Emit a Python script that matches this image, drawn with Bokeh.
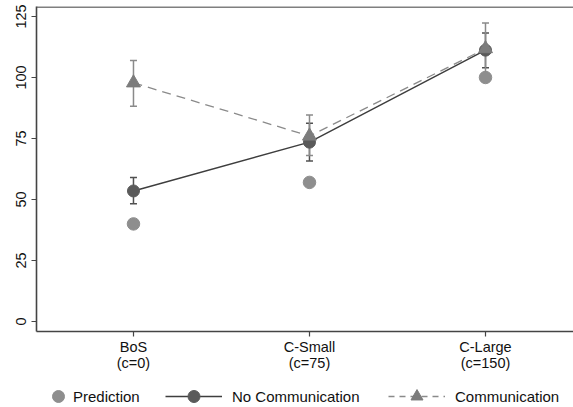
from bokeh.plotting import figure
from bokeh.layouts import column
from bokeh.models import (FixedTicker, Whisker, TeeHead, ColumnDataSource, Span,
                          Legend, LegendItem)
from bokeh.embed import file_html
from bokeh.resources import INLINE

# ---- data ----
categories = ["BoS\n(c=0)", "C-Small\n(c=75)", "C-Large\n(c=150)"]
xpos = [1, 2, 3]
prediction = [40, 57, 100]
nocomm = [53.5, 73.5, 111.2]
nocomm_lo = [48.3, 65.8, 104.0]
nocomm_hi = [59.0, 81.2, 118.2]
comm = [97.8, 76.0, 111.8]
comm_lo = [88.2, 68.0, 101.3]
comm_hi = [107.0, 84.6, 122.3]
yticks = [0, 25, 50, 75, 100, 125]
series_labels = ["Prediction", "No Communication", "Communication"]

FONT = "Liberation Sans"
PRED_COL = "#8e8e8e"
NC_LINE = "#3e3e3e"
NC_PT = "#5a5a5a"
C_LINE = "#8a8a8a"
C_PT = "#7c7c7c"

p = figure(width=573, height=374, output_backend="svg", toolbar_location=None,
           x_range=(0.449, 3.5), y_range=(-4.085, 129.08),
           min_border_left=36, min_border_right=0, min_border_top=6,
           min_border_bottom=42)
p.outline_line_color = None
p.xgrid.visible = False
p.ygrid.visible = False

# top frame line
p.add_layout(Span(location=128.9, dimension="width", line_color="#555555", line_width=1.6))

for ax in (p.xaxis[0], p.yaxis[0]):
    ax.axis_line_color = "#444444"
    ax.axis_line_width = 1.6
    ax.major_tick_line_color = "#444444"
    ax.major_tick_line_width = 1.2
    ax.major_tick_out = 5
    ax.major_tick_in = 0
    ax.minor_tick_line_color = None
    ax.major_label_text_font = FONT
    ax.major_label_text_font_size = "14.5px"
    ax.major_label_text_color = "#111111"

p.yaxis.ticker = FixedTicker(ticks=yticks)
p.yaxis.major_label_orientation = "vertical"
p.yaxis.major_label_standoff = 5

p.xaxis.ticker = FixedTicker(ticks=xpos)
p.xaxis.major_label_overrides = {x: c for x, c in zip(xpos, categories)}
p.xaxis.major_label_standoff = 2
p.xaxis.major_label_text_line_height = 1.05

# ---- glyphs ----
p.scatter(xpos, prediction, marker="circle", size=12.5,
          fill_color=PRED_COL, line_color=PRED_COL)
p.line(xpos, nocomm, line_color=NC_LINE, line_width=1.5)
p.line(xpos, comm, line_color=C_LINE, line_width=1.3, line_dash="9 6")
p.scatter(xpos, nocomm, marker="circle", size=12, fill_color=NC_PT, line_color=NC_PT)
p.scatter(xpos, comm, marker="triangle", size=14, fill_color=C_PT, line_color=C_PT)

src_nc = ColumnDataSource(dict(x=xpos, lo=nocomm_lo, hi=nocomm_hi))
src_c = ColumnDataSource(dict(x=xpos, lo=comm_lo, hi=comm_hi))
for src, col in ((src_nc, "#505050"), (src_c, "#8a8a8a")):
    p.add_layout(Whisker(base="x", lower="lo", upper="hi", source=src, dimension="height",
                         line_color=col, line_width=1.5,
                         upper_head=TeeHead(size=7, line_color=col, line_width=1.5),
                         lower_head=TeeHead(size=7, line_color=col, line_width=1.5)))

# ---- legend strip below (key renderers use the same data, kept out of view) ----
lf = figure(width=573, height=33, output_backend="svg", toolbar_location=None,
            x_axis_type=None, y_axis_type=None, x_range=(100, 101), y_range=(1000, 1001),
            min_border_left=36, min_border_right=0, min_border_top=0, min_border_bottom=0)
lf.outline_line_color = None
lf.xgrid.visible = False
lf.ygrid.visible = False

k_pred = lf.scatter(xpos, prediction, marker="circle", fill_color=PRED_COL, line_color=PRED_COL)
k_nc_l = lf.line(xpos, nocomm, line_color=NC_LINE, line_width=1.5)
k_nc_p = lf.scatter(xpos, nocomm, marker="circle", fill_color=NC_PT, line_color=NC_PT)
k_c_l = lf.line(xpos, comm, line_color=C_LINE, line_width=1.3, line_dash="6 5")
k_c_p = lf.scatter(xpos, comm, marker="triangle", fill_color=C_PT, line_color=C_PT)

common = dict(orientation="horizontal", glyph_height=30, label_height=30,
              padding=0, margin=0, spacing=0,
              border_line_color=None, background_fill_color=None,
              background_fill_alpha=0,
              label_text_font=FONT, label_text_font_size="15px",
              label_text_color="#111111", label_text_baseline="middle")

for label, rends, x, gw, so in ((series_labels[0], [k_pred], 7, 30, 0),
                                (series_labels[1], [k_nc_l, k_nc_p], 129, 57, 10),
                                (series_labels[2], [k_c_l, k_c_p], 352, 57, 10)):
    lf.add_layout(Legend(items=[LegendItem(label=label, renderers=rends)],
                         location=(x, -4), glyph_width=gw, label_standoff=so, **common),
                  "center")

layout = column(p, lf, spacing=0)
open("out.html", "w").write(file_html(layout, INLINE))
